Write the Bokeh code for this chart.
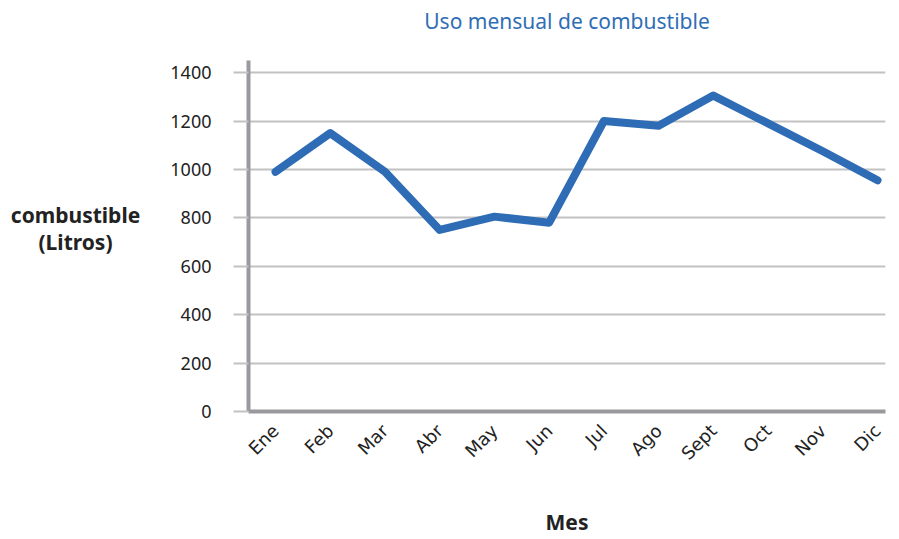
import math
from bokeh.plotting import figure
from bokeh.layouts import row
from bokeh.models import Range1d, FixedTicker, ColumnDataSource, Title
from bokeh.core.properties import value
from bokeh.embed import file_html
from bokeh.resources import INLINE

months = ["Ene", "Feb", "Mar", "Abr", "May", "Jun", "Jul", "Ago", "Sept", "Oct", "Nov", "Dic"]
litros = [990, 1150, 990, 750, 805, 780, 1200, 1180, 1305, 1190, 1075, 955]
y_ticks = [0, 200, 400, 600, 800, 1000, 1200, 1400]
title_text = "Uso mensual de combustible"
x_label = "Mes"
y_label_lines = ["combustible", "(Litros)"]

FONT = "Noto Sans"
H = 539
LW = 160
Y_MAX = 1450
idx = list(range(len(months)))
src = ColumnDataSource(dict(x=idx, y=litros))

# left panel holding the horizontal y-axis title (frame aligned with main plot)
lp = figure(width=LW, height=H, output_backend="svg", toolbar_location=None,
            x_range=Range1d(0, LW), y_range=Range1d(0, Y_MAX),
            x_axis_type=None, y_axis_type=None,
            min_border=0, min_border_left=0, min_border_right=0,
            min_border_top=0, min_border_bottom=0)
lp.outline_line_color = None
lp.xgrid.grid_line_color = None
lp.ygrid.grid_line_color = None
lp.text(x=[75, 75], y=[810, 702], text=y_label_lines, text_align="center",
        text_baseline="middle", text_font=value(FONT), text_font_size="21px",
        text_font_style="bold", text_color="#222222")

p = figure(width=891 - LW, height=H, output_backend="svg", toolbar_location=None,
           x_range=Range1d(-0.494, 11.146), y_range=Range1d(0, Y_MAX),
           min_border_left=248 - LW, min_border_right=6, min_border_top=60,
           min_border_bottom=127, title=title_text)
p.outline_line_color = None
p.background_fill_color = "white"
p.border_fill_color = "white"

# spacer between title and frame
p.add_layout(Title(text=" ", text_font_size="1px", standoff=21), "above")

p.title.align = "center"
p.title.vertical_align = "top"
p.title.text_font = FONT
p.title.text_font_size = "21px"
p.title.text_font_style = "normal"
p.title.text_color = "#2f6eb5"
p.title.standoff = 0

p.line("x", "y", source=src, line_color="#2e6db5", line_width=8,
       line_cap="round", line_join="round")

p.xgrid.grid_line_color = None
p.ygrid.grid_line_color = "#c2c2c2"
p.ygrid.grid_line_width = 2
p.yaxis.ticker = FixedTicker(ticks=y_ticks)
p.xaxis.ticker = FixedTicker(ticks=idx)
p.xaxis.major_label_overrides = {i: m for i, m in enumerate(months)}

for ax in (p.xaxis[0], p.yaxis[0]):
    ax.axis_line_color = "#9a9a9e"
    ax.axis_line_width = 4
    ax.minor_tick_line_color = None
    ax.major_label_text_color = "#222222"

p.yaxis.major_tick_line_color = "#c2c2c2"
p.yaxis.major_tick_line_width = 2
p.yaxis.major_tick_out = 15
p.yaxis.major_tick_in = 0
p.yaxis.major_label_standoff = 22
p.yaxis.major_label_text_font = FONT
p.yaxis.major_label_text_font_size = "18px"

p.xaxis.major_tick_line_color = None
p.xaxis.major_tick_out = 0
p.xaxis.major_tick_in = 0
p.xaxis.major_label_orientation = math.pi / 4
p.xaxis.major_label_standoff = 16
p.xaxis.major_label_text_font = "DejaVu Sans"
p.xaxis.major_label_text_font_size = "18px"
p.xaxis.axis_label = x_label
p.xaxis.axis_label_text_font = FONT
p.xaxis.axis_label_text_font_size = "21px"
p.xaxis.axis_label_text_font_style = "bold"
p.xaxis.axis_label_text_color = "#222222"
p.xaxis.axis_label_standoff = 34

open("out.html", "w").write(file_html(row(lp, p), INLINE))
